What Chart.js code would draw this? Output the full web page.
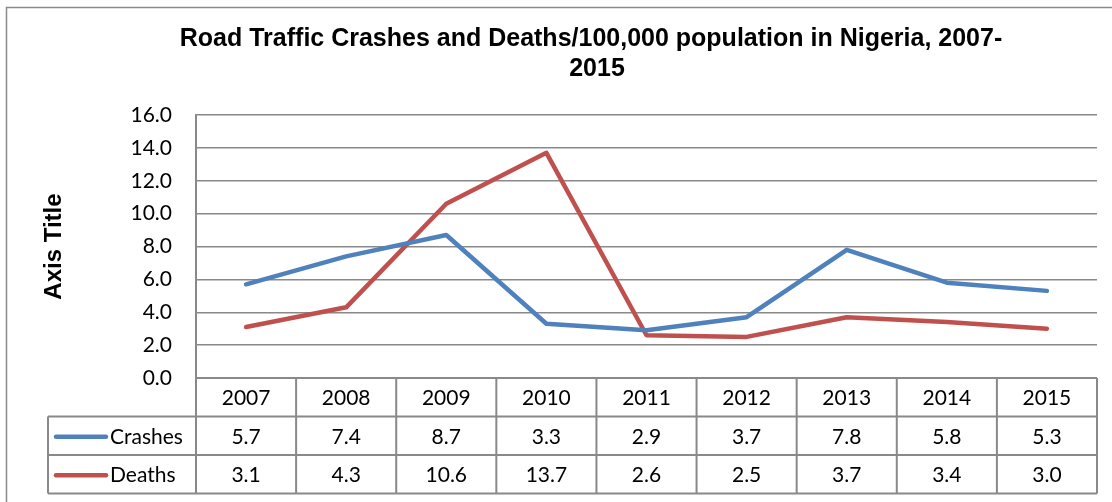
<!DOCTYPE html>
<html>
<head>
<meta charset="utf-8">
<script src="https://cdn.jsdelivr.net/npm/chart.js@4/dist/chart.umd.min.js"></script>
<style>
html,body{margin:0;padding:0;background:#fff;}
#wrap{width:1112px;height:502px;position:relative;}
</style>
</head>
<body>
<div id="wrap"><canvas id="c" width="1112" height="502"></canvas></div>
<script>
const categories = ['2007','2008','2009','2010','2011','2012','2013','2014','2015'];
const crashes = [5.7, 7.4, 8.7, 3.3, 2.9, 3.7, 7.8, 5.8, 5.3];
const deaths = [3.1, 4.3, 10.6, 13.7, 2.6, 2.5, 3.7, 3.4, 3.0];
const seriesNames = ['Crashes', 'Deaths'];
const titleLines = ['Road Traffic Crashes and Deaths/100,000 population in Nigeria, 2007-', '2015'];
const axisTitle = 'Axis Title';

const BLUE = '#4F81BD', RED = '#C0504D', GRID = '#898989';
const TXT_FONT = '21px Lato';

const tablePlugin = {
  id: 'tablePlugin',
  afterDraw(chart) {
    const ctx = chart.ctx;
    const ca = chart.chartArea;
    const xs = chart.scales.x;
    const n = categories.length;
    const colW = (ca.right - ca.left) / n;
    const rowH = 38.5;
    const r0 = ca.bottom, r1 = r0 + rowH, r2 = r1 + rowH, r3 = r2 + rowH;
    const legL = 48;
    ctx.save();
    // outer border
    ctx.strokeStyle = '#8a8a8a';
    ctx.lineWidth = 1.5;
    ctx.beginPath();
    ctx.moveTo(6.5, 520); ctx.lineTo(6.5, 7.5); ctx.lineTo(1130, 7.5);
    ctx.stroke();
    // title
    ctx.fillStyle = '#000';
    ctx.font = 'bold 25px "Liberation Sans", Arial';
    ctx.textAlign = 'center';
    ctx.textBaseline = 'middle';
    ctx.fillText(titleLines[0], 591, 39);
    ctx.fillText(titleLines[1], 597, 69);
    // axis title
    ctx.save();
    ctx.translate(54, (ca.top + ca.bottom) / 2);
    ctx.rotate(-Math.PI / 2);
    ctx.font = 'bold 24px "Liberation Sans", Arial';
    ctx.fillText(axisTitle, 0, 0);
    ctx.restore();
    // table lines
    ctx.strokeStyle = GRID;
    ctx.lineWidth = 2;
    ctx.beginPath();
    ctx.moveTo(ca.left, r0); ctx.lineTo(ca.right, r0);
    ctx.moveTo(legL, r1); ctx.lineTo(ca.right, r1);
    ctx.moveTo(legL, r2); ctx.lineTo(ca.right, r2);
    ctx.moveTo(legL, r3); ctx.lineTo(ca.right, r3);
    ctx.moveTo(legL, r1); ctx.lineTo(legL, r3);
    ctx.moveTo(ca.left, ca.top); ctx.lineTo(ca.left, r3);
    for (let i = 1; i <= n; i++) {
      const x = ca.left + i * colW;
      ctx.moveTo(x, r0); ctx.lineTo(x, r3);
    }
    ctx.stroke();
    // texts
    ctx.fillStyle = '#000';
    ctx.font = TXT_FONT;
    ctx.textAlign = 'center';
    ctx.textBaseline = 'middle';
    const rows = [crashes, deaths];
    for (let i = 0; i < n; i++) {
      const x = xs.getPixelForValue(i);
      ctx.fillText(categories[i], x, (r0 + r1) / 2 + 1);
      ctx.fillText(rows[0][i].toFixed(1), x, (r1 + r2) / 2 + 1);
      ctx.fillText(rows[1][i].toFixed(1), x, (r2 + r3) / 2 + 1);
    }
    // legend keys
    const cols = [BLUE, RED];
    for (let k = 0; k < 2; k++) {
      const y = (k === 0 ? (r1 + r2) / 2 : (r2 + r3) / 2);
      ctx.strokeStyle = cols[k];
      ctx.lineWidth = 4.5;
      ctx.lineCap = 'round';
      ctx.beginPath();
      ctx.moveTo(56, y + 1); ctx.lineTo(106, y + 1);
      ctx.stroke();
      ctx.textAlign = 'left';
      ctx.fillText(seriesNames[k], 110, y + 1);
    }
    ctx.restore();
  }
};

new Chart(document.getElementById('c'), {
  type: 'line',
  data: {
    labels: categories,
    datasets: [
      { label: seriesNames[0], data: crashes, borderColor: BLUE, backgroundColor: BLUE, borderWidth: 4.5, tension: 0, pointRadius: 0, borderCapStyle: 'round', borderJoinStyle: 'round' },
      { label: seriesNames[1], data: deaths, borderColor: RED, backgroundColor: RED, borderWidth: 4.5, tension: 0, pointRadius: 0, borderCapStyle: 'round', borderJoinStyle: 'round' }
    ]
  },
  options: {
    responsive: false,
    animation: false,
    events: [],
    layout: { padding: { left: 0, right: 15, top: 115, bottom: 124 } },
    plugins: { legend: { display: false }, title: { display: false }, tooltip: { enabled: false } },
    scales: {
      x: { display: false, offset: true },
      y: {
        min: 0, max: 16,
        ticks: { stepSize: 2, padding: 24, color: '#000', font: { family: 'Lato', size: 21 }, callback: v => v.toFixed(1) },
        grid: { color: GRID, lineWidth: 1.5, drawTicks: false },
        border: { display: true, color: GRID, width: 2 },
        afterFit(s) { s.width = 196; }
      }
    }
  },
  plugins: [tablePlugin]
});
</script>
</body>
</html>
